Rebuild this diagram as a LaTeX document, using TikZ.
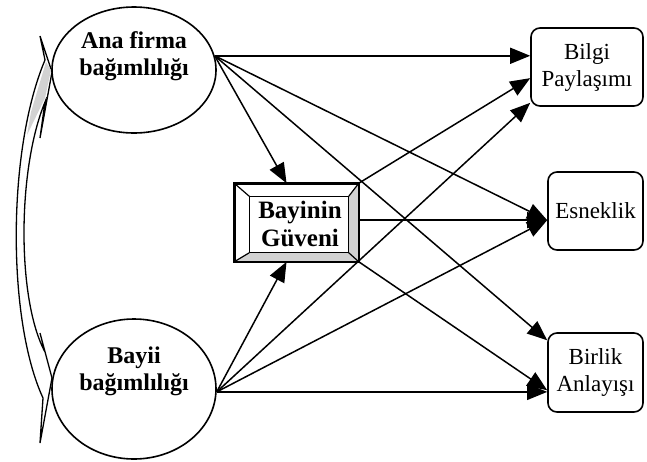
\documentclass[tikz,border=0pt]{standalone}
\usepackage{fontspec}
\setmainfont{Liberation Serif}
\usetikzlibrary{shapes.geometric,arrows.meta,calc}
\begin{document}
\begin{tikzpicture}[x=1pt,y=-1pt,
  conn/.style={line width=1.5pt,-{Triangle[length=20pt,width=16pt]}},
  latent/.style={ellipse,draw,line width=1.6pt,minimum width=164pt,minimum height=126pt,inner sep=0pt},
  outbox/.style={draw,line width=1.6pt,rounded corners=9pt,minimum height=78pt,inner sep=2pt,align=center,font=\fontsize{23}{27}\selectfont},
  lbl/.style={align=center,font=\bfseries\fontsize{24}{27}\selectfont,inner sep=0pt},
  bevel/.style={line width=1.2pt},
  shade/.style={fill=gray!35}]
\useasboundingbox (0,0) rectangle (647,461);

% latent variables
\node[latent] (anaf) at (134,70) {};
\node[latent,minimum height=140pt] (bayii) at (134,389) {};
\node[lbl] (anaflbl) at (134,56) {Ana firma\\bağımlılığı};
\node[lbl] (bayiilbl) at (134,371) {Bayii\\bağımlılığı};

% outcome boxes
\node[outbox,minimum width=112pt] (bilgi) at (587,67) {Bilgi\\Paylaşımı};
\node[outbox,minimum width=95pt] (esn) at (595.5,211) {Esneklik};
\node[outbox,minimum width=95pt,minimum height=79pt] (birlik) at (595.5,372.5) {Birlik\\Anlayışı};

% mediator box with bevel
\node[draw,line width=1.6pt,minimum width=123pt,minimum height=77pt,inner sep=0pt] (box) at (296.5,222.5) {};
\coordinate (iNW) at ($(box.north west)+(15,13)$);
\coordinate (iNE) at ($(box.north east)+(-10,13)$);
\coordinate (iSE) at ($(box.south east)+(-10,-9)$);
\coordinate (iSW) at ($(box.south west)+(15,-9)$);
\fill[shade] (box.north east) -- (box.south east) -- (iSE) -- (iNE) -- cycle;
\fill[shade] (box.south west) -- (box.south east) -- (iSE) -- (iSW) -- cycle;
\draw[bevel] (iNW) rectangle (iSE);
\draw[bevel] (box.north west) -- (iNW);
\draw[bevel] (box.north east) -- (iNE);
\draw[bevel] (box.south east) -- (iSE);
\draw[bevel] (box.south west) -- (iSW);
\draw[line width=1.6pt] (box.north west) rectangle (box.south east);
\node[lbl,font=\bfseries\fontsize{25}{28}\selectfont] (boxlbl) at (300,224) {Bayinin\\Güveni};

% curved double-headed correlation arrow
\draw[line width=1.3pt,fill=white,line join=miter]
  (40,36) -- (52,72) -- (40,138) -- (45,102)
  .. controls (17,170) and (17,300) .. (45,352)
  -- (40,333) -- (52,378) -- (40,443) -- (43,398)
  .. controls (7,320) and (7,150) .. (45,60) -- cycle;
\fill[shade] (46,62) -- (51,70) -- (45,98) -- (27,135) -- (31,112) -- cycle;

% connectors
\coordinate (A) at (anaf.10.6);
\coordinate (B) at (bayii.-2);
\coordinate (Ein) at ($(esn.north west)!0.615!(esn.south west)$);
\draw[conn] (A) -- (A -| bilgi.west);
\draw[conn] (A) -- ($(box.north west)!0.42!(box.north east)$);
\draw[conn] (A) -- (Ein);
\draw[conn] (A) -- ($(birlik.north west)!0.1!(birlik.south west)$);
\draw[conn] (B) -- (B -| birlik.west);
\draw[conn] (B) -- ($(box.south west)!0.42!(box.south east)$);
\draw[conn] (B) -- ($(bilgi.north west)!0.95!(bilgi.south west)$);
\draw[conn] (B) -- (Ein);
\draw[conn] (box.north east) -- ($(bilgi.north west)!0.64!(bilgi.south west)$);
\draw[conn] (box.east |- Ein) -- (Ein);
\draw[conn] (box.south east) -- ($(birlik.north west)!0.72!(birlik.south west)$);
\end{tikzpicture}
\end{document}
